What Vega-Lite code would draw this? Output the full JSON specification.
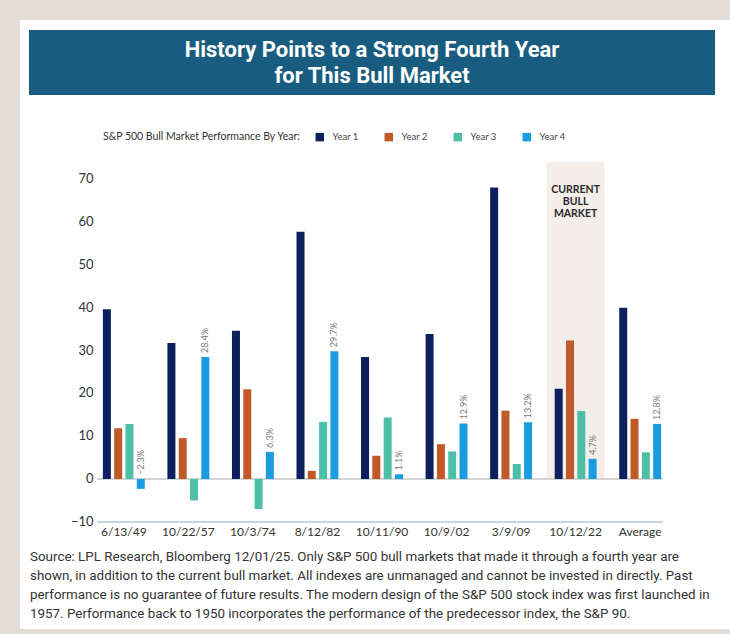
{
  "$schema": "https://vega.github.io/schema/vega-lite/v6.json",
  "background": "#e4ddd5",
  "padding": {"left": 20, "top": 20, "right": 0, "bottom": 5},
  "spacing": 0,
  "config": {"view": {"stroke": null}, "font": "Lato", "concat": {"spacing": 0}},
  "vconcat": [
    {
      "width": 710,
      "height": 85,
      "view": {"fill": "white", "stroke": null},
      "data": {"values": [{"panel": "title", "title": "History Points to a Strong Fourth Year\nfor This Bull Market"}]},
      "layer": [
        {
          "mark": {"type": "rect", "color": "#185d7f"},
          "encoding": {
            "x": {"field": "panel", "type": "nominal", "scale": {"paddingInner": 0, "paddingOuter": 0.017493, "align": 0.375}, "axis": null},
            "y": {"field": "panel", "type": "nominal", "scale": {"paddingInner": 0, "paddingOuter": 0.153846, "align": 0.5}, "axis": null}
          }
        },
        {
          "mark": {"type": "text", "color": "white", "font": "Roboto", "fontSize": 22, "fontWeight": "bold", "lineHeight": 26, "lineBreak": "\n", "align": "center", "baseline": "middle"},
          "encoding": {
            "x": {"field": "panel", "type": "nominal", "axis": null},
            "y": {"field": "panel", "type": "nominal", "bandPosition": 0.3077, "axis": null},
            "text": {"field": "title"}
          }
        }
      ]
    },
    {
      "width": 710,
      "height": 440,
      "view": {"fill": "white", "stroke": null},
      "data": {"values": [
        {"date": "6/13/49", "year": "Year 1", "value": 39.5},
        {"date": "6/13/49", "year": "Year 2", "value": 11.8},
        {"date": "6/13/49", "year": "Year 3", "value": 12.8},
        {"date": "6/13/49", "year": "Year 4", "value": -2.3},
        {"date": "10/22/57", "year": "Year 1", "value": 31.6},
        {"date": "10/22/57", "year": "Year 2", "value": 9.5},
        {"date": "10/22/57", "year": "Year 3", "value": -5.0},
        {"date": "10/22/57", "year": "Year 4", "value": 28.4},
        {"date": "10/3/74", "year": "Year 1", "value": 34.5},
        {"date": "10/3/74", "year": "Year 2", "value": 20.9},
        {"date": "10/3/74", "year": "Year 3", "value": -7.0},
        {"date": "10/3/74", "year": "Year 4", "value": 6.3},
        {"date": "8/12/82", "year": "Year 1", "value": 57.5},
        {"date": "8/12/82", "year": "Year 2", "value": 1.9},
        {"date": "8/12/82", "year": "Year 3", "value": 13.3},
        {"date": "8/12/82", "year": "Year 4", "value": 29.7},
        {"date": "10/11/90", "year": "Year 1", "value": 28.4},
        {"date": "10/11/90", "year": "Year 2", "value": 5.4},
        {"date": "10/11/90", "year": "Year 3", "value": 14.3},
        {"date": "10/11/90", "year": "Year 4", "value": 1.1},
        {"date": "10/9/02", "year": "Year 1", "value": 33.7},
        {"date": "10/9/02", "year": "Year 2", "value": 8.1},
        {"date": "10/9/02", "year": "Year 3", "value": 6.4},
        {"date": "10/9/02", "year": "Year 4", "value": 12.9},
        {"date": "3/9/09", "year": "Year 1", "value": 67.8},
        {"date": "3/9/09", "year": "Year 2", "value": 15.9},
        {"date": "3/9/09", "year": "Year 3", "value": 3.5},
        {"date": "3/9/09", "year": "Year 4", "value": 13.2},
        {"date": "10/12/22", "year": "Year 1", "value": 21.0},
        {"date": "10/12/22", "year": "Year 2", "value": 32.2},
        {"date": "10/12/22", "year": "Year 3", "value": 15.8},
        {"date": "10/12/22", "year": "Year 4", "value": 4.7},
        {"date": "Average", "year": "Year 1", "value": 39.8},
        {"date": "Average", "year": "Year 2", "value": 14.0},
        {"date": "Average", "year": "Year 3", "value": 6.2},
        {"date": "Average", "year": "Year 4", "value": 12.8}
      ]},
      "layer": [
        {
          "data": {"values": [{"note": "highlight"}]},
          "mark": {"type": "bar", "color": "#f3eee9", "width": {"band": 0.8986}},
          "encoding": {
            "x": {"datum": "10/12/22", "type": "nominal", "scale": {"domain": ["6/13/49", "10/22/57", "10/3/74", "8/12/82", "10/11/90", "10/9/02", "3/9/09", "10/12/22", "Average"]}},
            "y": {"datum": 73.7, "type": "quantitative", "scale": {"domain": [-15.349, 86.977], "nice": false, "zero": false}},
            "y2": {"datum": 0}
          }
        },
        {
          "data": {"values": [{"note": "zero line"}]},
          "mark": {"type": "rule", "color": "#c6c6c6", "strokeWidth": 1.5},
          "encoding": {
            "x": {"datum": "6/13/49", "type": "nominal", "bandPosition": 0.0844, "scale": {"domain": ["6/13/49", "10/22/57", "10/3/74", "8/12/82", "10/11/90", "10/9/02", "3/9/09", "10/12/22", "Average"]}},
            "x2": {"datum": "Average", "bandPosition": 0.854},
            "y": {"datum": 0, "type": "quantitative", "scale": {"domain": [-15.349, 86.977], "nice": false, "zero": false}}
          }
        },
        {
          "data": {"values": [{"note": "base line"}]},
          "mark": {"type": "rule", "color": "#b4c7de", "strokeWidth": 1.5},
          "encoding": {
            "x": {"datum": "6/13/49", "type": "nominal", "bandPosition": 0.0844, "scale": {"domain": ["6/13/49", "10/22/57", "10/3/74", "8/12/82", "10/11/90", "10/9/02", "3/9/09", "10/12/22", "Average"]}},
            "x2": {"datum": "Average", "bandPosition": 0.854},
            "y": {"datum": -10, "type": "quantitative", "scale": {"domain": [-15.349, 86.977], "nice": false, "zero": false}}
          }
        },
        {
          "mark": {"type": "bar"},
          "encoding": {
            "x": {
              "field": "date", "type": "nominal",
              "scale": {"domain": ["6/13/49", "10/22/57", "10/3/74", "8/12/82", "10/11/90", "10/9/02", "3/9/09", "10/12/22", "Average"], "paddingInner": 0, "paddingOuter": 1, "align": 0.5543},
              "axis": {"orient": "bottom", "offset": -23, "bandPosition": 0.5, "domain": false, "ticks": false, "labelPadding": 4, "labelAngle": 0, "labelAlign": "center", "labelBaseline": "top", "labelFontSize": 12, "labelColor": "#333333", "title": null, "grid": false}
            },
            "xOffset": {"field": "year", "type": "nominal", "scale": {"paddingInner": 0.292, "paddingOuter": 1}},
            "y": {
              "field": "value", "type": "quantitative",
              "scale": {"domain": [-15.349, 86.977], "nice": false, "zero": false},
              "axis": {"orient": "left", "offset": -75, "values": [-10, 0, 10, 20, 30, 40, 50, 60, 70], "domain": false, "ticks": false, "grid": false, "labelPadding": 2, "labelFontSize": 13, "labelColor": "#333333", "title": null}
            },
            "color": {
              "field": "year", "type": "nominal",
              "scale": {"domain": ["Year 1", "Year 2", "Year 3", "Year 4"], "range": ["#0d1f5c", "#c05a28", "#4dbfa7", "#1a9de0"]},
              "legend": {"orient": "none", "legendX": 83, "legendY": 112, "direction": "horizontal", "title": "S&P 500 Bull Market Performance By Year:", "titleOrient": "left", "titleLimit": 400, "titleFontSize": 10.5, "titleFontWeight": "normal", "titleColor": "#333333", "titlePadding": 14, "labelFontSize": 9.5, "labelColor": "#444444", "symbolType": "square", "symbolSize": 72, "symbolStrokeWidth": 0, "labelOffset": 8, "columnPadding": 25}
            }
          }
        },
        {
          "transform": [{"filter": "datum.year === 'Year 4' && datum.value >= 0"}, {"calculate": "format(datum.value, '.1f') + '%'", "as": "label"}],
          "mark": {"type": "text", "angle": 270, "align": "left", "baseline": "middle", "dx": 4, "fontSize": 9, "color": "#777777"},
          "encoding": {
            "x": {"field": "date", "type": "nominal"},
            "xOffset": {"field": "year", "type": "nominal"},
            "y": {"field": "value", "type": "quantitative"},
            "text": {"field": "label"}
          }
        },
        {
          "transform": [{"filter": "datum.year === 'Year 4' && datum.value < 0"}, {"calculate": "format(datum.value, '.1f') + '%'", "as": "label"}],
          "mark": {"type": "text", "angle": 270, "align": "left", "baseline": "middle", "dx": 4, "fontSize": 9, "color": "#777777"},
          "encoding": {
            "x": {"field": "date", "type": "nominal"},
            "xOffset": {"field": "year", "type": "nominal"},
            "y": {"datum": 0, "type": "quantitative"},
            "text": {"field": "label"}
          }
        },
        {
          "data": {"values": [{"note": "CURRENT\nBULL\nMARKET"}]},
          "mark": {"type": "text", "fontSize": 10.5, "fontWeight": "bold", "color": "#2a2a2a", "lineHeight": 12, "lineBreak": "\n", "align": "center", "baseline": "middle"},
          "encoding": {
            "x": {"datum": "10/12/22", "type": "nominal"},
            "y": {"datum": 67.2, "type": "quantitative"},
            "text": {"field": "note"}
          }
        }
      ]
    },
    {
      "width": 710,
      "height": 84,
      "view": {"fill": "white", "stroke": null},
      "data": {"values": [{"panel": "src", "note": "Source: LPL Research, Bloomberg 12/01/25. Only S&P 500 bull markets that made it through a fourth year are\nshown, in addition to the current bull market. All indexes are unmanaged and cannot be invested in directly. Past\nperformance is no guarantee of future results. The modern design of the S&P 500 stock index was first launched in\n1957. Performance back to 1950 incorporates the performance of the predecessor index, the S&P 90."}]},
      "mark": {"type": "text", "font": "Roboto", "fontSize": 13.4, "lineHeight": 19, "lineBreak": "\n", "align": "left", "baseline": "middle", "color": "#333333"},
      "encoding": {
        "x": {"field": "panel", "type": "nominal", "scale": {"type": "point", "padding": 0, "align": 0.014085}, "axis": null},
        "y": {"field": "panel", "type": "nominal", "scale": {"type": "point", "padding": 0, "align": 0.142857}, "axis": null},
        "text": {"field": "note"}
      }
    }
  ]
}
